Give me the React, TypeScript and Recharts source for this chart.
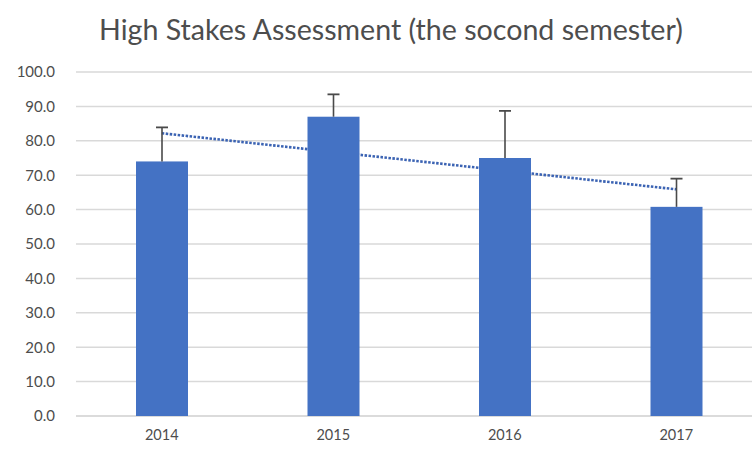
import {
  ComposedChart,
  Bar,
  Line,
  XAxis,
  YAxis,
  CartesianGrid,
} from "recharts";

const years = ["2014", "2015", "2016", "2017"];
const scores = [74.0, 87.0, 75.0, 60.8];
// error bars only go upward
const errorUp = [9.9, 6.5, 13.7, 8.2];
// linear trend line, drawn between its two ends
const trend: (number | null)[] = [82.2, null, null, 65.9];
const yTicks = [0, 10, 20, 30, 40, 50, 60, 70, 80, 90, 100];

const data = years.map((year, i) => ({
  year,
  score: scores[i],
  errUp: errorUp[i],
  trend: trend[i],
}));

const TEXT = "#4d4d4d";
const GRID = "#d9d9d9";
const BLUE = "#4472C4";
const TREND = "#3b63b3";
const WHISKER = "#4a4a4a";

const W = 770;
const H = 450;
const MARGIN = { top: 72, right: 8, bottom: 0, left: 16 };

// bar plus an upward-only error whisker, scaled from the bar's own pixel height
function BarWithError(props: any) {
  const { x, y, width, height, fill, payload } = props;
  const pxPerUnit = height / payload.score;
  const top = y - payload.errUp * pxPerUnit;
  const cx = x + width / 2;
  return (
    <g>
      <rect x={x} y={y} width={width} height={height} fill={fill} />
      <line x1={cx} y1={y} x2={cx} y2={top} stroke={WHISKER} strokeWidth={1.6} />
      <line x1={cx - 6} y1={top} x2={cx + 6} y2={top} stroke={WHISKER} strokeWidth={1.8} />
    </g>
  );
}

export default function App() {
  return (
    <div
      style={{
        position: "fixed",
        left: 0,
        top: 0,
        width: 752,
        height: 450,
        overflow: "hidden",
        background: "#fff",
        fontFamily: "Lato, sans-serif",
      }}
    >
      <div
        style={{
          position: "absolute",
          left: 0,
          width: 782,
          top: 12,
          textAlign: "center",
          fontSize: 28.6,
          color: TEXT,
        }}
      >
        High Stakes Assessment (the socond semester)
      </div>

      {/* bottom layer: grid, axes and the trend line, which runs behind the bars */}
      <div style={{ position: "absolute", left: 0, top: 0 }}>
        <ComposedChart
          width={W}
          height={H}
          data={data}
          margin={MARGIN}
          barCategoryGap={60}
        >
          <CartesianGrid vertical={false} stroke={GRID} strokeWidth={1.5} />
          <XAxis
            dataKey="year"
            height={34}
            tickLine={false}
            axisLine={{ stroke: GRID, strokeWidth: 1.5 }}
            tickMargin={8}
            tick={{ fontSize: 14.5, fill: TEXT }}
          />
          <YAxis
            width={60}
            domain={[0, 100]}
            ticks={yTicks}
            interval={0}
            axisLine={false}
            tickLine={false}
            tickMargin={15}
            tick={{ fontSize: 15, fill: TEXT }}
            tickFormatter={(v: number) => v.toFixed(1)}
          />
          {/* invisible bar keeps the band layout identical to the top layer */}
          <Bar dataKey="score" fill="none" barSize={52} isAnimationActive={false} />
          <Line
            dataKey="trend"
            type="linear"
            stroke={TREND}
            strokeWidth={2.6}
            strokeDasharray="2.5 1.5"
            dot={false}
            connectNulls
            isAnimationActive={false}
          />
        </ComposedChart>
      </div>

      {/* top layer: bars with error whiskers, same layout */}
      <div style={{ position: "absolute", left: 0, top: 0 }}>
        <ComposedChart
          width={W}
          height={H}
          data={data}
          margin={MARGIN}
          barCategoryGap={60}
        >
          <XAxis dataKey="year" height={34} tick={false} tickLine={false} axisLine={false} />
          <YAxis
            width={60}
            domain={[0, 100]}
            ticks={yTicks}
            tick={false}
            tickLine={false}
            axisLine={false}
          />
          <Bar
            dataKey="score"
            fill={BLUE}
            barSize={52}
            shape={BarWithError}
            isAnimationActive={false}
          />
        </ComposedChart>
      </div>
    </div>
  );
}
